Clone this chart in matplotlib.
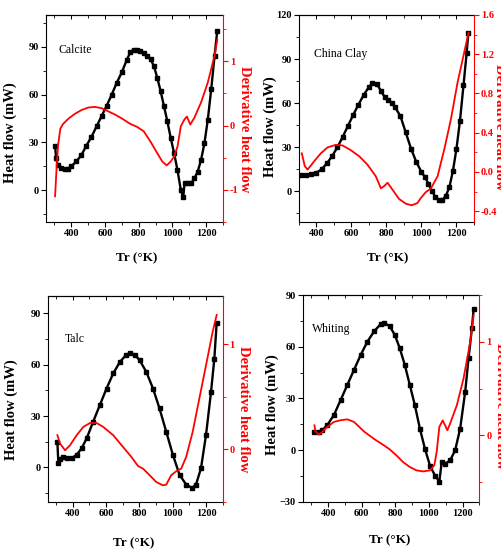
import matplotlib
matplotlib.use("Agg")
import matplotlib.pyplot as plt
from matplotlib.ticker import MultipleLocator, FixedLocator

# ---------------- data ----------------
# Calcite
calcite_T_hf = [304, 310, 320, 340, 360, 380, 400, 430, 460, 490, 520, 550, 580, 610, 640, 670,
                700, 730, 750, 770, 790, 810, 830, 850, 870, 890, 910, 930, 950, 970, 990, 1010,
                1030, 1050, 1064, 1072, 1090, 1110, 1130, 1150, 1170, 1190, 1210, 1230, 1250, 1266]
calcite_hf = [28, 20, 15.5, 14, 13, 13.5, 15, 18, 22, 28, 33.5, 40, 46.5, 53, 60, 67.5,
              74, 82, 86.5, 88.3, 88.1, 87.5, 86.4, 84.5, 82.2, 78, 70.6, 62.2, 52.7, 43.2, 32.7, 23.2,
              12.6, 0, -4.6, 4.2, 4.2, 4.2, 7.4, 11.6, 19, 29.5, 44.3, 63.2, 84.3, 100]
calcite_T_d = [304, 312, 322, 335, 350, 380, 420, 460, 500, 540, 580, 620, 660, 700, 750, 790,
               830, 870, 910, 940, 966, 990, 1010, 1030, 1050, 1070, 1086, 1106, 1130, 1170, 1210,
               1250, 1266]
calcite_d = [-1.1, -0.7, -0.3, -0.05, 0.02, 0.1, 0.18, 0.24, 0.28, 0.29, 0.27, 0.22, 0.17, 0.11,
             0.026, -0.02, -0.09, -0.25, -0.43, -0.56, -0.62, -0.56, -0.48, -0.33, -0.01, 0.09,
             0.14, 0.016, 0.12, 0.36, 0.67, 1.09, 1.33]

# China Clay
clay_T_hf = [314, 340, 370, 400, 430, 460, 490, 520, 550, 580, 610, 640, 670, 700, 720, 745,
             770, 790, 810, 830, 850, 880, 910, 940, 970, 1000, 1020, 1040, 1060, 1080, 1100,
             1120, 1140, 1160, 1180, 1200, 1220, 1240, 1258, 1268]
clay_hf = [10.7, 11, 11.5, 12.5, 15, 19, 24, 30, 37, 44.5, 52, 59, 65.5, 71, 73.5, 73,
           68, 64, 62, 60, 57, 51, 40, 29, 20, 13, 9.5, 5, 0, -4, -6,
           -5.8, -3, 3, 14, 29, 48, 72, 94, 108]
clay_T_d = [316, 333, 349, 370, 387, 425, 463, 510, 549, 596, 644, 691, 739, 768, 783, 806,
            834, 872, 911, 944, 977, 996, 1025, 1053, 1092, 1130, 1168, 1206, 1244, 1269]
clay_d = [0.19, 0.06, 0.024, 0.07, 0.11, 0.19, 0.25, 0.276, 0.27, 0.222, 0.16, 0.075, -0.044,
          -0.167, -0.15, -0.11, -0.18, -0.276, -0.324, -0.34, -0.317, -0.266, -0.205, -0.17,
          -0.044, 0.229, 0.536, 0.911, 1.218, 1.42]

# Talc
talc_T_hf = [308, 314, 324, 340, 364, 394, 424, 454, 484, 523, 563, 603, 643, 683, 722, 746,
             772, 802, 842, 882, 921, 961, 1001, 1041, 1081, 1116, 1140, 1170, 1200, 1230, 1250,
             1264]
talc_hf = [15, 2.5, 5, 5.8, 5.4, 5.4, 7.4, 11.2, 17, 26.7, 36.4, 46, 54.8, 61.5, 65.8, 66.8,
           65.8, 62.5, 55.7, 46, 34.4, 20.9, 7.4, -4.3, -10, -12, -10, -0.4, 19, 44, 63.5, 84.5]
talc_T_d = [308, 324, 354, 384, 424, 464, 504, 543, 583, 643, 702, 752, 792, 822, 862, 901,
            941, 961, 991, 1021, 1051, 1081, 1120, 1160, 1200, 1240, 1264]
talc_d = [0.134, 0.054, -0.01, 0.038, 0.134, 0.213, 0.25, 0.25, 0.213, 0.134, 0.022, -0.073,
          -0.16, -0.185, -0.248, -0.312, -0.344, -0.338, -0.248, -0.21, -0.185, -0.073, 0.166,
          0.484, 0.8, 1.12, 1.28]

# Whiting
whiting_T_hf = [314, 344, 364, 394, 434, 474, 514, 554, 594, 634, 674, 714, 734, 766, 796, 826,
                856, 886, 916, 946, 976, 1006, 1036, 1062, 1076, 1096, 1126, 1156, 1186, 1216,
                1236, 1256, 1266]
whiting_hf = [10.5, 10.5, 11.5, 14.4, 20.3, 29, 37.8, 46.6, 55.3, 63, 69, 73.3, 73.8, 71.9, 67,
              59.2, 49.5, 37.8, 26.1, 12.5, 0.8, -9, -14.8, -18.3, -7, -8, -6, -0.2, 12.5, 33.9,
              53.4, 70.9, 81.6]
whiting_T_d = [318, 324, 344, 364, 394, 434, 474, 514, 554, 614, 674, 734, 766, 806, 846, 886,
               926, 966, 1006, 1032, 1046, 1062, 1082, 1096, 1110, 1126, 1166, 1206, 1246, 1266]
whiting_d = [0.107, 0.043, 0.007, 0.036, 0.089, 0.143, 0.161, 0.171, 0.143, 0.04, -0.04, -0.11,
             -0.15, -0.214, -0.286, -0.339, -0.375, -0.386, -0.375, -0.32, -0.18, 0.09, 0.16,
             0.107, 0.054, 0.125, 0.32, 0.607, 1.0, 1.286]

names = ["Calcite", "China Clay", "Talc", "Whiting"]
x_label = "Tr (\u00b0K)"
y_label = "Heat flow (mW)"
y2_label = "Derivative heat flow"

# ---------------- style ----------------
plt.rcParams['font.family'] = ['Liberation Serif', 'DejaVu Serif']
RED = "#ff0000"
TICK_FS = 7.5

fig = plt.figure(figsize=(5.02, 5.5), dpi=100)

panels = [
    dict(rect=[0.0916, 0.5964, 0.3526, 0.3764], T=calcite_T_hf, H=calcite_hf, Td=calcite_T_d,
         D=calcite_d, xlim=(250, 1300), ylim=(-20, 110), y2lim=(-1.5, 1.72),
         yticks=[0, 30, 60, 90], y2major=[-1, 0, 1], y2minor=0.5, y2fmt="%g",
         name_pos=(0.068, 0.83), ylab=(-0.20, 0.43), y2lab=(1.12, 0.45), xlab=(0.51, -0.174)),
    dict(rect=[0.5956, 0.5964, 0.3486, 0.3764], T=clay_T_hf, H=clay_hf, Td=clay_T_d,
         D=clay_d, xlim=(300, 1300), ylim=(-21, 120), y2lim=(-0.51, 1.6),
         yticks=[0, 30, 60, 90, 120], y2major=[-0.4, 0.0, 0.4, 0.8, 1.2, 1.6], y2minor=0.2,
         y2fmt="%.1f", name_pos=(0.083, 0.81), ylab=(-0.167, 0.46), y2lab=(1.143, 0.46),
         xlab=(0.507, -0.174)),
    dict(rect=[0.0950, 0.0878, 0.3486, 0.3740], T=talc_T_hf, H=talc_hf, Td=talc_T_d,
         D=talc_d, xlim=(250, 1300), ylim=(-20, 100), y2lim=(-0.5, 1.46),
         yticks=[0, 30, 60, 90], y2major=[0, 1], y2minor=0.5, y2fmt="%g",
         name_pos=(0.095, 0.79), ylab=(-0.206, 0.45), y2lab=(1.12, 0.45), xlab=(0.49, -0.20)),
    dict(rect=[0.6036, 0.0878, 0.3512, 0.3758], T=whiting_T_hf, H=whiting_hf, Td=whiting_T_d,
         D=whiting_d, xlim=(250, 1300), ylim=(-30, 90), y2lim=(-0.71, 1.5),
         yticks=[-30, 0, 30, 60, 90], y2major=[0, 1], y2minor=0.5, y2fmt="%g",
         name_pos=(0.05, 0.835), ylab=(-0.177, 0.47), y2lab=(1.12, 0.46), xlab=(0.49, -0.185)),
]

for name, p in zip(names, panels):
    ax = fig.add_axes(p["rect"])
    ax2 = ax.twinx()

    ax.plot(p["T"], p["H"], color="black", lw=1.7, marker="s", ms=2.8, mec="black", mfc="black")
    ax2.plot(p["Td"], p["D"], color=RED, lw=1.3)

    ax.set_xlim(*p["xlim"])
    ax.set_ylim(*p["ylim"])
    ax2.set_ylim(*p["y2lim"])

    ax.xaxis.set_major_locator(FixedLocator([400, 600, 800, 1000, 1200]))
    ax.xaxis.set_minor_locator(MultipleLocator(100))
    ax.yaxis.set_major_locator(FixedLocator(p["yticks"]))
    ax.yaxis.set_minor_locator(MultipleLocator(15))
    ax2.yaxis.set_major_locator(FixedLocator(p["y2major"]))
    ax2.yaxis.set_minor_locator(MultipleLocator(p["y2minor"]))
    ax2.yaxis.set_major_formatter(matplotlib.ticker.FormatStrFormatter(p["y2fmt"]))

    ax.tick_params(axis='both', which='major', direction='out', length=3.5, width=0.8,
                   labelsize=TICK_FS, pad=1.5)
    ax.tick_params(axis='both', which='minor', direction='out', length=2, width=0.6)
    ax2.tick_params(axis='y', which='major', direction='out', length=3.5, width=0.8,
                    colors=RED, labelsize=TICK_FS, pad=1.5)
    ax2.tick_params(axis='y', which='minor', direction='out', length=2, width=0.6, colors=RED)
    for lab in ax.get_xticklabels() + ax.get_yticklabels() + ax2.get_yticklabels():
        lab.set_fontweight('bold')

    sec = ax.secondary_xaxis('top')
    sec.xaxis.set_major_locator(FixedLocator([400, 600, 800, 1000, 1200]))
    sec.xaxis.set_minor_locator(MultipleLocator(100))
    sec.tick_params(axis='x', which='major', direction='in', length=3, width=0.7, labeltop=False)
    sec.tick_params(axis='x', which='minor', direction='in', length=2, width=0.6)
    sec.spines['top'].set_linewidth(0.8)

    for s in ['left', 'bottom', 'top']:
        ax.spines[s].set_linewidth(0.8)
        ax.spines[s].set_color('black')
    ax.spines['right'].set_visible(False)
    ax2.spines['right'].set_color(RED)
    ax2.spines['right'].set_linewidth(0.8)
    for s in ['left', 'bottom', 'top']:
        ax2.spines[s].set_visible(False)

    ax.set_xlabel(x_label, fontsize=9.5, fontweight='bold', va='center', ha='center')
    ax.xaxis.set_label_coords(*p["xlab"])
    ax.set_ylabel(y_label, fontsize=10.5, fontweight='bold', va='center', ha='center')
    ax.yaxis.set_label_coords(*p["ylab"])
    ax2.set_ylabel(y2_label, fontsize=10.5, fontweight='bold', color=RED, rotation=270,
                   va='center', ha='center')
    ax2.yaxis.set_label_coords(*p["y2lab"])

    ax.text(p["name_pos"][0], p["name_pos"][1], name, transform=ax.transAxes,
            fontsize=8.5, ha='left', va='center', color='black')

fig.savefig("out.png", dpi=100)
